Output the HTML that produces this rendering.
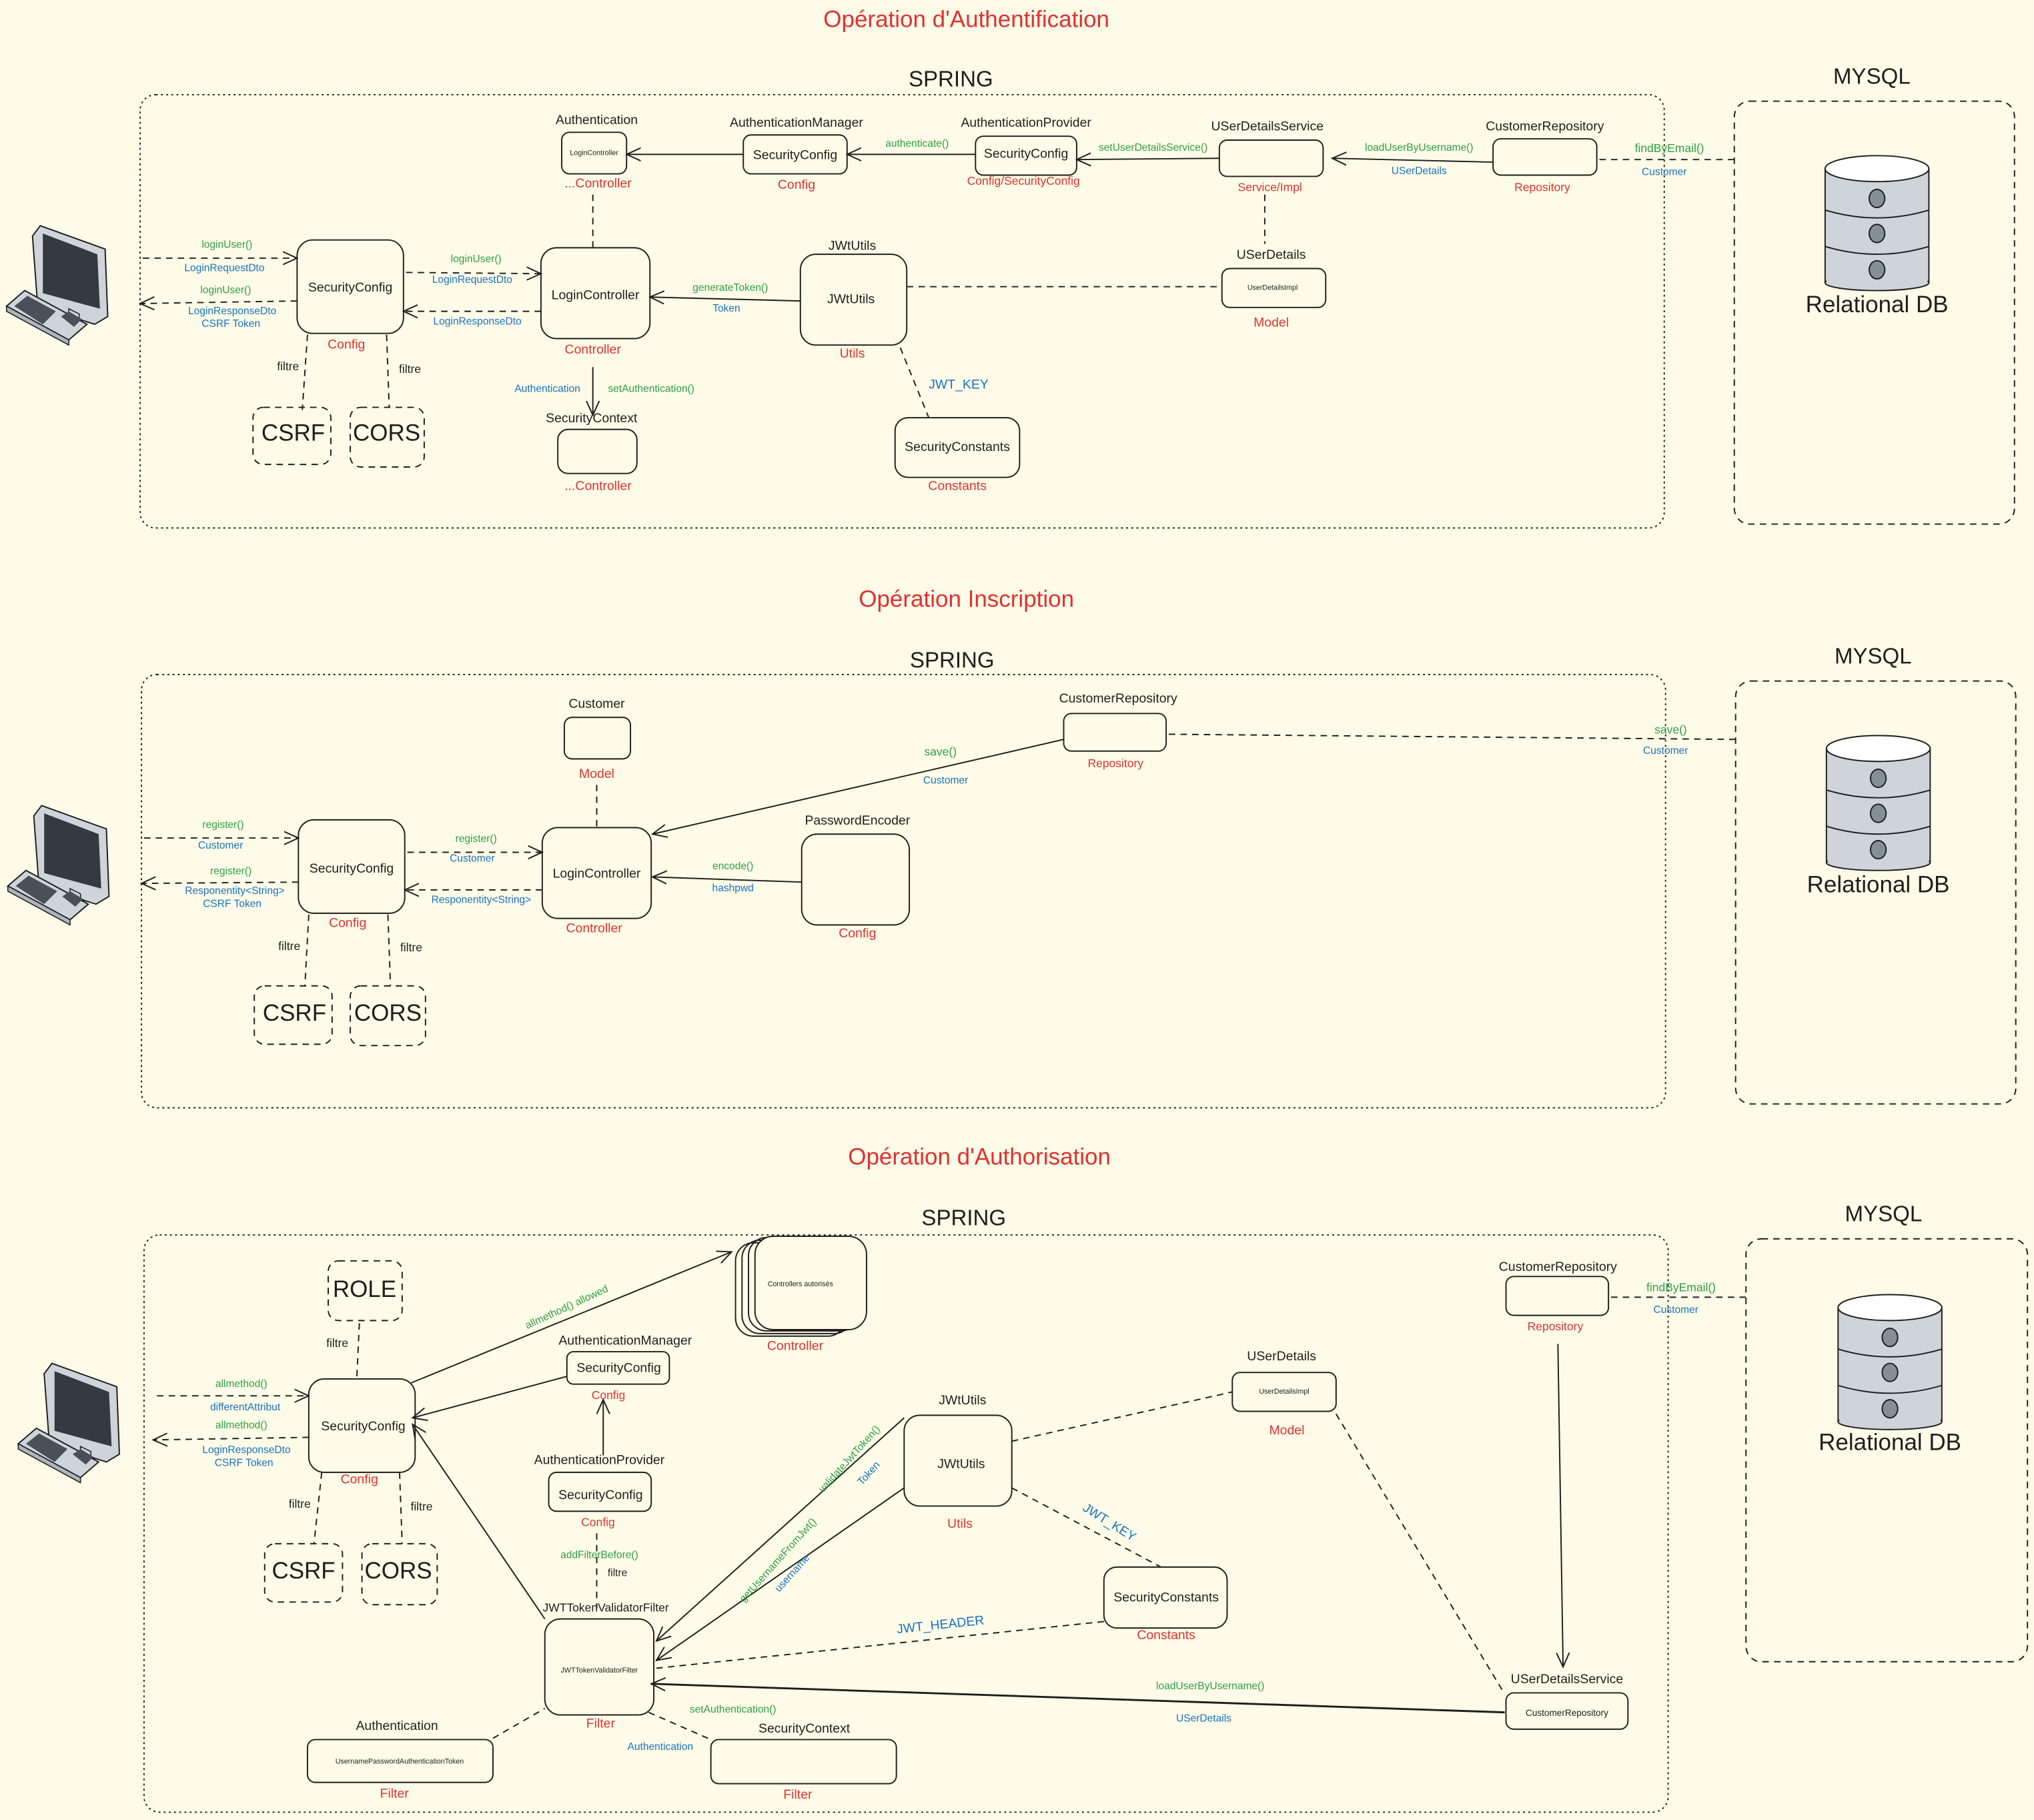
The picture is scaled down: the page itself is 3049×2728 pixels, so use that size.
<!DOCTYPE html>
<html><head><meta charset="utf-8"><style>
html,body{margin:0;padding:0;background:#fefce8;}
svg{display:block}
text{font-family:"Liberation Sans",sans-serif;text-anchor:middle;dominant-baseline:middle}
.k{fill:#1e1e1e;font-size:10px}
.r{fill:#e03131;font-size:10px}
.g{fill:#2f9e44;font-size:8px}
.b{fill:#1971c2;font-size:8px}
.t{fill:#1e1e1e;font-size:5.5px}
.big{fill:#1e1e1e;font-size:18px}
.title{fill:#e03131;font-size:18px}
.box{fill:none;stroke:#1e1e1e;stroke-width:1}
.dbox{fill:none;stroke:#1e1e1e;stroke-width:1;stroke-dasharray:5 4}
.cont{fill:none;stroke:#1e1e1e;stroke-width:1;stroke-dasharray:1.5 2.5}
.sl{stroke:#1e1e1e;stroke-width:1;fill:none}
.dl{stroke:#1e1e1e;stroke-width:1;fill:none;stroke-dasharray:5 4}
</style></head><body>
<svg width="3049" height="2728" viewBox="0 0 1568 1403" xmlns="http://www.w3.org/2000/svg">
<defs>
<marker id="a" viewBox="0 0 12 12" refX="11" refY="6" markerWidth="12" markerHeight="12" markerUnits="userSpaceOnUse" orient="auto">
<path d="M0,1 L11,6 L0,11" fill="none" stroke="#1e1e1e" stroke-width="1"/></marker>
<g id="pc">
<polygon points="28,4 78,22 80,74 70,80 26,66 22,12" fill="#ced4da" stroke="#1e1e1e" stroke-width="1"/>
<polygon points="30,10 72,26 74,68 30,56" fill="#343a40"/>
<polygon points="50,68 58,72 58,80 50,76" fill="#ced4da" stroke="#1e1e1e" stroke-width="0.8"/>
<polygon points="2,66 16,54 64,80 50,92" fill="#ced4da" stroke="#1e1e1e" stroke-width="1"/>
<polygon points="8,66 18,58 40,70 30,80" fill="#495057"/>
<polygon points="44,74 50,70 60,76 54,82" fill="#495057"/>
<polygon points="2,66 2,70 50,96 50,92" fill="#adb5bd" stroke="#1e1e1e" stroke-width="0.8"/>
</g>
<g id="db">
<rect x="0" y="10" width="80" height="88" fill="#ced4da" stroke="#1e1e1e"/>
<ellipse cx="40" cy="98" rx="40" ry="6" fill="#ced4da" stroke="#1e1e1e"/>
<rect x="1" y="14" width="78" height="83" fill="#ced4da"/>
<path d="M0,42 Q40,54 80,42 M0,70 Q40,82 80,70" fill="none" stroke="#1e1e1e"/>
<ellipse cx="40" cy="10" rx="40" ry="10" fill="#fff" stroke="#1e1e1e"/>
<ellipse cx="40" cy="33" rx="6" ry="7" fill="#868e96" stroke="#1e1e1e"/>
<ellipse cx="40" cy="60" rx="6" ry="7" fill="#868e96" stroke="#1e1e1e"/>
<ellipse cx="40" cy="88" rx="6" ry="7" fill="#868e96" stroke="#1e1e1e"/>
</g>
</defs>

<!-- ============ SECTION 1 ============ -->
<text x="745" y="16" class="title">Opération d'Authentification</text>
<text x="733" y="62" class="big" style="font-size:17px">SPRING</text>
<rect x="108" y="73" width="1175" height="334" rx="12" class="cont"/>
<text x="1443" y="60" class="big" style="font-size:17px">MYSQL</text>
<rect x="1337" y="78" width="216" height="326" rx="12" class="dbox"/>
<use href="#db" x="1407" y="120"/>
<text x="1447" y="236" class="big">Relational DB</text>
<use href="#pc" x="3" y="170"/>

<rect x="229" y="185" width="82" height="72" rx="12" class="box"/><text x="270" y="222" class="k">SecurityConfig</text>
<text x="267" y="266" class="r">Config</text>
<line x1="110" y1="199" x2="229" y2="199" class="dl" marker-end="url(#a)"/>
<text x="175" y="189" class="g">loginUser()</text><text x="173" y="207" class="b">LoginRequestDto</text>
<line x1="229" y1="232" x2="108" y2="234" class="dl" marker-end="url(#a)"/>
<text x="174" y="224" class="g">loginUser()</text><text x="179" y="240" class="b">LoginResponseDto</text><text x="178" y="250" class="b">CSRF Token</text>
<line x1="313" y1="210" x2="417" y2="211" class="dl" marker-end="url(#a)"/>
<text x="367" y="200" class="g">loginUser()</text><text x="364" y="216" class="b">LoginRequestDto</text>
<line x1="417" y1="240" x2="311" y2="240" class="dl" marker-end="url(#a)"/>
<text x="368" y="248" class="b">LoginResponseDto</text>

<rect x="417" y="191" width="84" height="70" rx="12" class="box"/><text x="459" y="228" class="k">LoginController</text>
<text x="457" y="270" class="r">Controller</text>
<text x="460" y="93" class="k">Authentication</text>
<rect x="433" y="102" width="50" height="32" rx="6" class="box"/><text x="458" y="118" class="t">LoginController</text>
<text x="461" y="142" class="r">...Controller</text>
<line x1="457" y1="150" x2="457" y2="191" class="dl"/>
<text x="614" y="95" class="k">AuthenticationManager</text>
<rect x="573" y="104" width="80" height="30" rx="6" class="box"/><text x="613" y="120" class="k">SecurityConfig</text>
<text x="614" y="143" class="r">Config</text>
<line x1="573" y1="119" x2="483" y2="119" class="sl" marker-end="url(#a)"/>
<text x="791" y="95" class="k">AuthenticationProvider</text>
<rect x="752" y="105" width="78" height="30" rx="6" class="box"/><text x="791" y="119" class="k">SecurityConfig</text>
<text x="789" y="140" class="r" style="font-size:9px">Config/SecurityConfig</text>
<line x1="752" y1="119" x2="653" y2="119" class="sl" marker-end="url(#a)"/>
<text x="707" y="111" class="g">authenticate()</text>
<text x="977" y="98" class="k">USerDetailsService</text>
<rect x="940" y="108" width="80" height="28" rx="6" class="box"/>
<text x="979" y="145" class="r" style="font-size:9px">Service/Impl</text>
<line x1="940" y1="122" x2="830" y2="123" class="sl" marker-end="url(#a)"/>
<text x="889" y="114" class="g">setUserDetailsService()</text>
<text x="1191" y="98" class="k">CustomerRepository</text>
<rect x="1151" y="107" width="80" height="28" rx="6" class="box"/>
<text x="1189" y="145" class="r" style="font-size:9px">Repository</text>
<line x1="1151" y1="125" x2="1027" y2="122" class="sl" marker-end="url(#a)"/>
<text x="1094" y="114" class="g">loadUserByUsername()</text><text x="1094" y="132" class="b">USerDetails</text>
<line x1="1233" y1="123" x2="1337" y2="123" class="dl"/>
<text x="1287" y="115" class="g" style="font-size:9px">findByEmail()</text><text x="1283" y="133" class="b">Customer</text>
<line x1="975" y1="150" x2="975" y2="188" class="dl"/>
<text x="980" y="197" class="k">USerDetails</text>
<rect x="942" y="207" width="80" height="30" rx="6" class="box"/><text x="981" y="222" class="t">UserDetailsImpl</text>
<text x="980" y="249" class="r">Model</text>
<text x="657" y="190" class="k">JWtUtils</text>
<rect x="617" y="196" width="82" height="70" rx="12" class="box"/><text x="656" y="231" class="k">JWtUtils</text>
<text x="657" y="273" class="r">Utils</text>
<line x1="617" y1="232" x2="501" y2="229" class="sl" marker-end="url(#a)"/>
<text x="563" y="222" class="g">generateToken()</text><text x="560" y="238" class="b">Token</text>
<line x1="699" y1="221" x2="942" y2="221" class="dl"/>
<line x1="694" y1="268" x2="716" y2="322" class="dl"/>
<text x="739" y="297" class="b" style="font-size:10px">JWT_KEY</text>
<rect x="690" y="322" width="96" height="46" rx="10" class="box"/><text x="738" y="345" class="k">SecurityConstants</text>
<text x="738" y="375" class="r">Constants</text>
<line x1="457" y1="283" x2="457" y2="320" class="sl" marker-end="url(#a)"/>
<text x="422" y="300" class="b">Authentication</text><text x="502" y="300" class="g">setAuthentication()</text>
<text x="456" y="323" class="k">SecurityContext</text>
<rect x="430" y="331" width="61" height="34" rx="8" class="box"/>
<text x="461" y="375" class="r">...Controller</text>
<line x1="237" y1="258" x2="233" y2="316" class="dl"/><text x="222" y="283" class="k" style="font-size:9px">filtre</text>
<line x1="298" y1="258" x2="300" y2="314" class="dl"/><text x="316" y="285" class="k" style="font-size:9px">filtre</text>
<rect x="195" y="314" width="60" height="44" rx="8" class="dbox"/><text x="226" y="335" class="big">CSRF</text>
<rect x="270" y="314" width="57" height="46" rx="8" class="dbox"/><text x="298" y="335" class="big">CORS</text>

<!-- ============ SECTION 2 ============ -->
<text x="745" y="463" class="title">Opération Inscription</text>
<text x="734" y="510" class="big" style="font-size:17px">SPRING</text>
<rect x="109" y="520" width="1175" height="334" rx="12" class="cont"/>
<text x="1444" y="507" class="big" style="font-size:17px">MYSQL</text>
<rect x="1338" y="525" width="216" height="326" rx="12" class="dbox"/>
<use href="#db" x="1408" y="567"/>
<text x="1448" y="683" class="big">Relational DB</text>
<use href="#pc" x="4" y="617"/>

<rect x="230" y="632" width="82" height="72" rx="12" class="box"/><text x="271" y="670" class="k">SecurityConfig</text>
<text x="268" y="712" class="r">Config</text>
<line x1="111" y1="646" x2="230" y2="646" class="dl" marker-end="url(#a)"/>
<text x="172" y="636" class="g">register()</text><text x="170" y="652" class="b">Customer</text>
<line x1="230" y1="680" x2="109" y2="681" class="dl" marker-end="url(#a)"/>
<text x="178" y="672" class="g">register()</text><text x="181" y="687" class="b">Responentity&lt;String&gt;</text><text x="179" y="697" class="b">CSRF Token</text>
<line x1="314" y1="657" x2="418" y2="657" class="dl" marker-end="url(#a)"/>
<text x="367" y="647" class="g">register()</text><text x="364" y="662" class="b">Customer</text>
<line x1="418" y1="686" x2="312" y2="686" class="dl" marker-end="url(#a)"/>
<text x="371" y="694" class="b">Responentity&lt;String&gt;</text>
<rect x="418" y="638" width="84" height="70" rx="12" class="box"/><text x="460" y="674" class="k">LoginController</text>
<text x="458" y="716" class="r">Controller</text>
<text x="460" y="543" class="k">Customer</text>
<rect x="435" y="553" width="51" height="32" rx="6" class="box"/>
<text x="460" y="597" class="r">Model</text>
<line x1="460" y1="605" x2="460" y2="637" class="dl"/>
<text x="862" y="539" class="k">CustomerRepository</text>
<rect x="820" y="550" width="79" height="29" rx="6" class="box"/>
<text x="860" y="589" class="r" style="font-size:9px">Repository</text>
<line x1="820" y1="570" x2="503" y2="643" class="sl" marker-end="url(#a)"/>
<text x="725" y="580" class="g" style="font-size:9px">save()</text><text x="729" y="602" class="b">Customer</text>
<line x1="901" y1="566" x2="1338" y2="570" class="dl"/>
<text x="1288" y="563" class="g" style="font-size:9px">save()</text><text x="1284" y="579" class="b">Customer</text>
<text x="661" y="633" class="k">PasswordEncoder</text>
<rect x="618" y="643" width="83" height="70" rx="12" class="box"/>
<text x="661" y="720" class="r">Config</text>
<line x1="618" y1="680" x2="503" y2="676" class="sl" marker-end="url(#a)"/>
<text x="565" y="668" class="g">encode()</text><text x="565" y="685" class="b">hashpwd</text>
<line x1="238" y1="705" x2="235" y2="760" class="dl"/><text x="223" y="730" class="k" style="font-size:9px">filtre</text>
<line x1="299" y1="705" x2="301" y2="760" class="dl"/><text x="317" y="731" class="k" style="font-size:9px">filtre</text>
<rect x="196" y="760" width="60" height="45" rx="8" class="dbox"/><text x="227" y="782" class="big">CSRF</text>
<rect x="270" y="760" width="58" height="46" rx="8" class="dbox"/><text x="299" y="782" class="big">CORS</text>

<!-- ============ SECTION 3 ============ -->
<text x="755" y="893" class="title">Opération d'Authorisation</text>
<text x="743" y="940" class="big" style="font-size:17px">SPRING</text>
<rect x="111" y="952" width="1175" height="445" rx="12" class="cont"/>
<text x="1452" y="937" class="big" style="font-size:17px">MYSQL</text>
<rect x="1346" y="955" width="217" height="326" rx="12" class="dbox"/>
<use href="#db" x="1417" y="998"/>
<text x="1457" y="1113" class="big">Relational DB</text>
<use href="#pc" x="12" y="1047"/>

<rect x="238" y="1063" width="82" height="72" rx="12" class="box"/><text x="280" y="1100" class="k">SecurityConfig</text>
<text x="277" y="1141" class="r">Config</text>
<line x1="121" y1="1076" x2="238" y2="1076" class="dl" marker-end="url(#a)"/>
<text x="186" y="1067" class="g">allmethod()</text><text x="189" y="1085" class="b">differentAttribut</text>
<line x1="238" y1="1108" x2="118" y2="1110" class="dl" marker-end="url(#a)"/>
<text x="186" y="1099" class="g">allmethod()</text><text x="190" y="1118" class="b">LoginResponseDto</text><text x="188" y="1128" class="b">CSRF Token</text>
<rect x="253" y="972" width="57" height="46" rx="8" class="dbox"/><text x="281" y="995" class="big">ROLE</text>
<line x1="277" y1="1020" x2="275" y2="1063" class="dl"/><text x="260" y="1036" class="k" style="font-size:9px">filtre</text>
<line x1="248" y1="1135" x2="242" y2="1190" class="dl"/><text x="231" y="1160" class="k" style="font-size:9px">filtre</text>
<line x1="308" y1="1135" x2="310" y2="1190" class="dl"/><text x="325" y="1162" class="k" style="font-size:9px">filtre</text>
<rect x="204" y="1190" width="60" height="45" rx="8" class="dbox"/><text x="234" y="1212" class="big">CSRF</text>
<rect x="279" y="1190" width="58" height="47" rx="8" class="dbox"/><text x="307" y="1212" class="big">CORS</text>

<line x1="317" y1="1066" x2="564" y2="965" class="sl" marker-end="url(#a)"/>
<text x="437" y="1008" class="g" transform="rotate(-25 437 1008)">allmethod() allowed</text>
<rect x="567" y="958" width="85" height="72" rx="14" class="box"/>
<rect x="572" y="956" width="85" height="72" rx="14" class="box"/>
<rect x="577" y="954" width="85" height="72" rx="14" class="box"/>
<rect x="582" y="953" width="86" height="72" rx="14" class="box" style="fill:#fefce8"/>
<text x="617" y="990" class="t">Controllers autorisés</text>
<text x="613" y="1038" class="r">Controller</text>

<text x="482" y="1034" class="k">AuthenticationManager</text>
<rect x="437" y="1042" width="79" height="25" rx="5" class="box"/><text x="477" y="1055" class="k">SecurityConfig</text>
<text x="469" y="1076" class="r" style="font-size:9px">Config</text>
<line x1="437" y1="1061" x2="318" y2="1093" class="sl" marker-end="url(#a)"/>
<text x="462" y="1126" class="k">AuthenticationProvider</text>
<rect x="423" y="1135" width="79" height="30" rx="6" class="box"/><text x="463" y="1153" class="k">SecurityConfig</text>
<text x="461" y="1174" class="r" style="font-size:9px">Config</text>
<line x1="465" y1="1122" x2="465" y2="1079" class="sl" marker-end="url(#a)"/>
<line x1="460" y1="1182" x2="460" y2="1240" class="dl"/>
<text x="462" y="1199" class="g">addFilterBefore()</text><text x="476" y="1213" class="k" style="font-size:8px">filtre</text>
<text x="467" y="1240" class="k" style="font-size:9px">JWTTokenValidatorFilter</text>
<rect x="420" y="1248" width="84" height="74" rx="12" class="box"/><text x="462" y="1288" class="t">JWTTokenValidatorFilter</text>
<text x="463" y="1329" class="r">Filter</text>
<line x1="420" y1="1248" x2="318" y2="1098" class="sl" marker-end="url(#a)"/>

<text x="742" y="1080" class="k">JWtUtils</text>
<rect x="697" y="1091" width="83" height="70" rx="12" class="box"/><text x="741" y="1129" class="k">JWtUtils</text>
<text x="740" y="1175" class="r">Utils</text>
<line x1="697" y1="1093" x2="506" y2="1265" class="sl" marker-end="url(#a)"/>
<text x="655" y="1125" class="g" transform="rotate(-48 655 1125)">validateJwtToken()</text>
<text x="670" y="1136" class="b" transform="rotate(-48 670 1136)">Token</text>
<line x1="697" y1="1147" x2="506" y2="1280" class="sl" marker-end="url(#a)"/>
<text x="600" y="1203" class="g" transform="rotate(-48 600 1203)">getUsernameFromJwt()</text>
<text x="611" y="1213" class="b" transform="rotate(-48 611 1213)">username</text>
<line x1="780" y1="1111" x2="950" y2="1073" class="dl"/>
<text x="988" y="1046" class="k">USerDetails</text>
<rect x="950" y="1058" width="80" height="30" rx="6" class="box"/><text x="990" y="1073" class="t">UserDetailsImpl</text>
<text x="992" y="1103" class="r">Model</text>
<line x1="1030" y1="1090" x2="1160" y2="1306" class="dl"/>
<line x1="780" y1="1147" x2="895" y2="1208" class="dl"/>
<text x="855" y="1174" class="b" style="font-size:10px" transform="rotate(32 855 1174)">JWT_KEY</text>
<rect x="851" y="1208" width="95" height="47" rx="10" class="box"/><text x="899" y="1232" class="k">SecurityConstants</text>
<text x="899" y="1261" class="r">Constants</text>
<line x1="851" y1="1250" x2="506" y2="1286" class="dl"/>
<text x="725" y="1253" class="b" style="font-size:10px" transform="rotate(-6 725 1253)">JWT_HEADER</text>

<text x="1201" y="977" class="k">CustomerRepository</text>
<rect x="1161" y="984" width="79" height="30" rx="6" class="box"/>
<text x="1199" y="1023" class="r" style="font-size:9px">Repository</text>
<line x1="1242" y1="1000" x2="1346" y2="1000" class="dl"/>
<text x="1296" y="993" class="g" style="font-size:9px">findByEmail()</text><text x="1292" y="1010" class="b">Customer</text>
<line x1="1201" y1="1036" x2="1205" y2="1285" class="sl" marker-end="url(#a)"/>
<text x="1208" y="1295" class="k">USerDetailsService</text>
<rect x="1161" y="1305" width="94" height="28" rx="6" class="box"/><text x="1208" y="1321" class="k" style="font-size:7px">CustomerRepository</text>
<line x1="1160" y1="1320" x2="502" y2="1298" class="sl" style="stroke-width:1.5" marker-end="url(#a)"/>
<text x="933" y="1300" class="g">loadUserByUsername()</text><text x="928" y="1325" class="b">USerDetails</text>

<text x="306" y="1331" class="k">Authentication</text>
<rect x="237" y="1341" width="143" height="33" rx="6" class="box"/><text x="308" y="1358" class="t">UsernamePasswordAuthenticationToken</text>
<text x="304" y="1383" class="r">Filter</text>
<line x1="380" y1="1340" x2="420" y2="1317" class="dl"/>
<text x="620" y="1333" class="k">SecurityContext</text>
<rect x="548" y="1341" width="143" height="34" rx="6" class="box"/>
<text x="615" y="1384" class="r">Filter</text>
<line x1="500" y1="1320" x2="548" y2="1341" class="dl"/>
<text x="565" y="1318" class="g">setAuthentication()</text><text x="509" y="1347" class="b">Authentication</text>
</svg>
</body></html>
